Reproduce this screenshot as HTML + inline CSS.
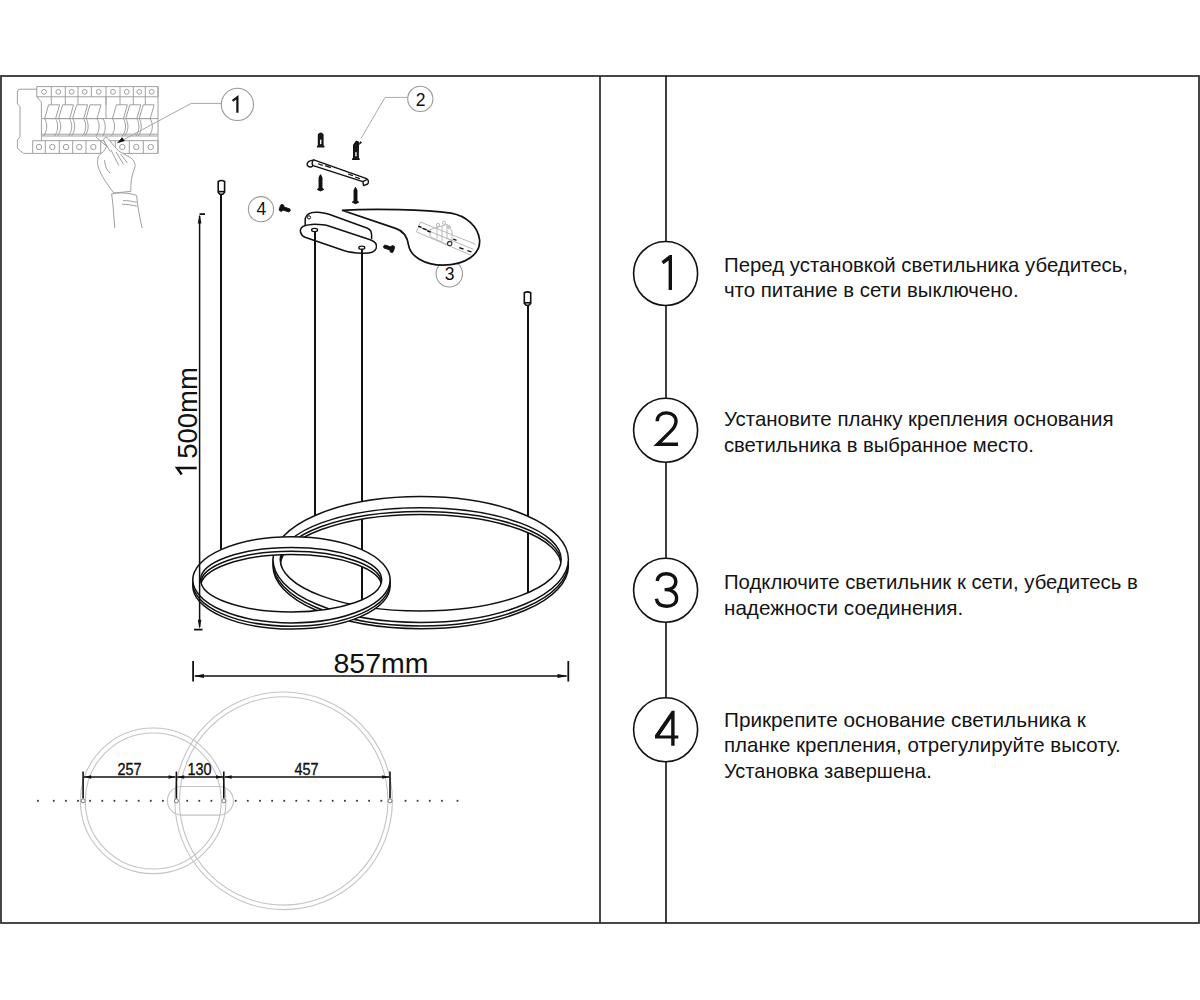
<!DOCTYPE html>
<html><head><meta charset="utf-8">
<style>
html,body{margin:0;padding:0;background:#fff;}
body{width:1200px;height:1000px;overflow:hidden;}
svg{display:block;}
text{font-family:"Liberation Sans",sans-serif;}
</style></head><body>
<svg width="1200" height="1000" viewBox="0 0 1200 1000">
<defs>
</defs>
<rect x="0" y="0" width="1200" height="1000" fill="#fff"/>
<!-- frame -->
<g fill="none" stroke="#333" stroke-width="1.8">
  <rect x="1" y="76" width="1198" height="847"/>
  <line x1="600" y1="76" x2="600" y2="923"/>
</g>
<line x1="666" y1="76" x2="666" y2="923" stroke="#111" stroke-width="1.6"/>
<!-- RIGHT STEPS -->
<g id="steps">
  <g fill="#fff" stroke="#111" stroke-width="1.6">
    <circle cx="665.6" cy="273.5" r="32"/>
    <circle cx="665.6" cy="430.2" r="32"/>
    <circle cx="665.6" cy="590.2" r="32"/>
    <circle cx="665.6" cy="729.7" r="32"/>
  </g>
  <g fill="none" stroke="#111" stroke-width="3.4" stroke-linejoin="miter" stroke-linecap="butt">
    <path d="M672,255 V289.9 H668.6 V260.4 L663.4,264.2 L661.6,261.2 L669.6,255 Z" fill="#111" stroke="none"/>
    <path d="M657.2,421.2 C657.2,415.6 661.2,412.9 666.6,412.9 C672.2,412.9 676,416.4 676,421.2 C676,425.2 674,428 670.6,431.4 L657.6,444.2 H678"/>
    <path d="M657.2,581 C657.8,576 661.6,573.8 666.6,573.8 C672.2,573.8 675.8,577.2 675.8,581.6 C675.8,586.4 672,589.6 666,589.6 H664.6 M666,589.6 C672.6,589.6 676.6,593.4 676.6,598.4 C676.6,603.2 672.6,606.2 666.6,606.2 C660.8,606.2 657,603.4 656.4,598.8"/>
    <path fill-rule="evenodd" fill="#111" stroke="none" d="M674.6,710.8 V735.4 H678.3 V738.4 H674.6 V745.8 H671.2 V738.4 H655 V735.3 L671.8,710.8 Z M659.6,735.4 H671.2 V718.4 Z"/>
  </g>
  <g font-size="21" fill="#141414">
    <text x="724" y="272" textLength="404.0" lengthAdjust="spacingAndGlyphs">Перед установкой светильника убедитесь,</text>
    <text x="724" y="297.2" textLength="294.6" lengthAdjust="spacingAndGlyphs">что питание в сети выключено.</text>
    <text x="724" y="426.2" textLength="389.5" lengthAdjust="spacingAndGlyphs">Установите планку крепления основания</text>
    <text x="724" y="451.5" textLength="309.9" lengthAdjust="spacingAndGlyphs">светильника в выбранное место.</text>
    <text x="724" y="589.2" textLength="413.8" lengthAdjust="spacingAndGlyphs">Подключите светильник к сети, убедитесь в</text>
    <text x="724" y="614.5" textLength="239.2" lengthAdjust="spacingAndGlyphs">надежности соединения.</text>
    <text x="724" y="727" textLength="361.9" lengthAdjust="spacingAndGlyphs">Прикрепите основание светильника к</text>
    <text x="724" y="752.2" textLength="396.8" lengthAdjust="spacingAndGlyphs">планке крепления, отрегулируйте высоту.</text>
    <text x="724" y="777.8" textLength="207.7" lengthAdjust="spacingAndGlyphs">Установка завершена.</text>
  </g>
</g>
<g fill="none" stroke="#a0a0a0" stroke-width="1" stroke-linejoin="round">
<path d="M37,89.2 H20 Q17.4,89.2 17.4,92 V104 L20,106.5 V137 L17.4,140 V148.5 L23.5,153.4 H32.7"/>
<rect x="36.8" y="86.6" width="121.2" height="10.2"/>
<line x1="51.3" y1="86.6" x2="51.3" y2="96.8"/>
<line x1="65.3" y1="86.6" x2="65.3" y2="96.8"/>
<line x1="78" y1="86.6" x2="78" y2="96.8"/>
<line x1="91.3" y1="86.6" x2="91.3" y2="96.8"/>
<line x1="106" y1="86.6" x2="106" y2="96.8"/>
<line x1="120" y1="86.6" x2="120" y2="96.8"/>
<line x1="133.3" y1="86.6" x2="133.3" y2="96.8"/>
<line x1="145.3" y1="86.6" x2="145.3" y2="96.8"/>
<circle cx="44.0" cy="91.8" r="2.4"/>
<circle cx="58.3" cy="91.8" r="2.4"/>
<circle cx="71.7" cy="91.8" r="2.4"/>
<circle cx="84.7" cy="91.8" r="2.4"/>
<circle cx="98.7" cy="91.8" r="2.4"/>
<circle cx="113.0" cy="91.8" r="2.4"/>
<circle cx="126.7" cy="91.8" r="2.4"/>
<circle cx="139.3" cy="91.8" r="2.4"/>
<circle cx="151.7" cy="91.8" r="2.4"/>
<line x1="158" y1="86.6" x2="158" y2="153.4"/>
<path d="M36.8,96.8 L41.4,102.2 V136"/>
<line x1="51.3" y1="96.8" x2="51.3" y2="104.8"/>
<line x1="65.3" y1="96.8" x2="65.3" y2="104.8"/>
<line x1="78" y1="96.8" x2="78" y2="104.8"/>
<line x1="106" y1="96.8" x2="106" y2="104.8"/>
<line x1="120" y1="96.8" x2="120" y2="104.8"/>
<line x1="133.3" y1="96.8" x2="133.3" y2="104.8"/>
<line x1="145.3" y1="96.8" x2="145.3" y2="104.8"/>
<line x1="106" y1="96.8" x2="106" y2="118.6"/>
<line x1="41.4" y1="118.6" x2="158" y2="118.6"/>
<line x1="41.4" y1="136" x2="158" y2="136"/>
<line x1="41.4" y1="134.2" x2="158" y2="134.2"/>
<path d="M48.6,104.8 H59.6 L55.6,118.6 H44.6 Z"/>
<path d="M44.6,118.6 C47.6,124 47.6,130 43.6,136 M55.6,118.6 C58.6,124 58.6,130 54.6,136"/>
<path d="M62.6,104.8 H73.6 L69.6,118.6 H58.6 Z"/>
<path d="M58.6,118.6 C61.6,124 61.6,130 57.6,136 M69.6,118.6 C72.6,124 72.6,130 68.6,136"/>
<path d="M76.6,104.8 H87.6 L83.6,118.6 H72.6 Z"/>
<path d="M72.6,118.6 C75.6,124 75.6,130 71.6,136 M83.6,118.6 C86.6,124 86.6,130 82.6,136"/>
<path d="M90,104.8 H101 L97,118.6 H86 Z"/>
<path d="M86,118.6 C89,124 89,130 85,136 M97,118.6 C100,124 100,130 96,136"/>
<path d="M116.4,104.8 H127.4 L123.4,118.6 H112.4 Z"/>
<path d="M112.4,118.6 C115.4,124 115.4,130 111.4,136 M123.4,118.6 C126.4,124 126.4,130 122.4,136"/>
<path d="M129.8,104.8 H140.8 L136.8,118.6 H125.80000000000001 Z"/>
<path d="M125.80000000000001,118.6 C128.8,124 128.8,130 124.80000000000001,136 M136.8,118.6 C139.8,124 139.8,130 135.8,136"/>
<path d="M143.2,104.8 H154.2 L150.2,118.6 H139.2 Z"/>
<path d="M139.2,118.6 C142.2,124 142.2,130 138.2,136 M150.2,118.6 C153.2,124 153.2,130 149.2,136"/>
<path d="M103,118.6 C106,124 106,130 103,136 M96.6,118.6 L103,118.6"/>
<rect x="32.7" y="140.7" width="125.3" height="12.7"/>
<line x1="45.3" y1="140.7" x2="45.3" y2="153.4"/>
<line x1="59.3" y1="140.7" x2="59.3" y2="153.4"/>
<line x1="72.7" y1="140.7" x2="72.7" y2="153.4"/>
<line x1="86" y1="140.7" x2="86" y2="153.4"/>
<line x1="100.7" y1="140.7" x2="100.7" y2="153.4"/>
<line x1="115.3" y1="140.7" x2="115.3" y2="153.4"/>
<line x1="129.3" y1="140.7" x2="129.3" y2="153.4"/>
<line x1="143.3" y1="140.7" x2="143.3" y2="153.4"/>
<circle cx="39.0" cy="147" r="2.7"/>
<circle cx="52.3" cy="147" r="2.7"/>
<circle cx="66.0" cy="147" r="2.7"/>
<circle cx="79.3" cy="147" r="2.7"/>
<circle cx="93.3" cy="147" r="2.7"/>
<circle cx="122.3" cy="147" r="2.7"/>
<circle cx="136.3" cy="147" r="2.7"/>
<circle cx="150.7" cy="147" r="2.7"/>
<line x1="41.4" y1="136" x2="41.4" y2="140.7"/>
</g>
<g fill="#fff" stroke="#a0a0a0" stroke-width="1" stroke-linejoin="round">
<path d="M100.4,154.2 C97.4,156.4 96.6,162 98.6,168 C101,175 107,184 113.8,193 L130.8,191.4 C130.4,183 131.6,176 134.6,168 C136.4,163.4 133,158.4 127.6,156 L118.6,151 L114.4,146.6 L108.4,138.8 C106.4,136.6 103.4,137.4 103.8,140.6 L106.6,146.4 C104.6,150.6 102.4,152.8 100.4,154.2 Z"/>
</g>
<g fill="none" stroke="#a0a0a0" stroke-width="1" stroke-linejoin="round">
<path d="M103.8,140.6 L110.2,151.6 M96,137 L106.6,146.4 M111,150 L118.8,165.6 M116,152 L123.6,164.4 M120.6,154 L127.4,163 M104.6,160 C105,166 106.4,170 110.2,173.2"/>
<path d="M111.6,194 C113.4,205 113.6,216 114.8,228 M111.6,194 C120,192 130,193 136.6,195.4 C137.4,206 139.6,217 142.2,228 M123,200.6 C128,200.6 133,201.2 136.6,202.4 M122,204.2 C127,204.4 133,205.2 136.8,206.2"/>
</g>
<g stroke="#111" stroke-width="2" fill="none">
<line x1="221" y1="193" x2="221" y2="550"/>
<line x1="315" y1="236" x2="315" y2="516"/>
<line x1="362" y1="250" x2="362" y2="600"/>
<line x1="528" y1="304" x2="528" y2="593"/>
</g>
<defs>
<clipPath id="BInClip"><ellipse cx="420.7" cy="559.4" rx="140.5" ry="51.6"/></clipPath>
<clipPath id="BInShClip"><ellipse cx="420.7" cy="566.0" rx="140.5" ry="51.6"/></clipPath>
<mask id="BOutMask" maskUnits="userSpaceOnUse" x="0" y="0" width="1200" height="1000"><rect x="0" y="0" width="1200" height="1000" fill="#fff"/><ellipse cx="420.7" cy="559.5" rx="147.7" ry="63.0" fill="#000"/></mask>
<mask id="BBandMask" maskUnits="userSpaceOnUse" x="0" y="0" width="1200" height="1000"><ellipse cx="420.7" cy="559.5" rx="147.7" ry="63.0" fill="#fff"/><ellipse cx="420.7" cy="565.7" rx="147.7" ry="63.0" fill="#fff"/><g clip-path="url(#BInShClip)"><ellipse cx="420.7" cy="559.4" rx="140.5" ry="51.6" fill="#000"/></g></mask>
</defs>
<rect x="0" y="0" width="1200" height="1000" fill="#fff" mask="url(#BBandMask)"/>
<g fill="none" stroke="#111" stroke-width="1.5">
<ellipse cx="420.7" cy="559.5" rx="147.7" ry="63.0"/>
<g mask="url(#BOutMask)">
<ellipse cx="420.7" cy="563.0" rx="147.7" ry="63.0"/>
<ellipse cx="420.7" cy="565.7" rx="147.7" ry="63.0"/>
</g>
<ellipse cx="420.7" cy="559.4" rx="140.5" ry="51.6"/>
<g clip-path="url(#BInClip)">
<ellipse cx="420.7" cy="563.0" rx="140.5" ry="51.6"/>
<ellipse cx="420.7" cy="566.0" rx="140.5" ry="51.6"/>
</g></g>
<defs>
<clipPath id="SInClip"><ellipse cx="291.15" cy="579.75" rx="90.55" ry="32.25"/></clipPath>
<clipPath id="SInShClip"><ellipse cx="291.15" cy="586.75" rx="90.55" ry="32.25"/></clipPath>
<mask id="SOutMask" maskUnits="userSpaceOnUse" x="0" y="0" width="1200" height="1000"><rect x="0" y="0" width="1200" height="1000" fill="#fff"/><ellipse cx="291.45" cy="579.8" rx="98.65" ry="43.1" fill="#000"/></mask>
<mask id="SBandMask" maskUnits="userSpaceOnUse" x="0" y="0" width="1200" height="1000"><ellipse cx="291.45" cy="579.8" rx="98.65" ry="43.1" fill="#fff"/><ellipse cx="291.45" cy="585.9" rx="98.65" ry="43.1" fill="#fff"/><g clip-path="url(#SInShClip)"><ellipse cx="291.15" cy="579.75" rx="90.55" ry="32.25" fill="#000"/></g></mask>
</defs>
<rect x="0" y="0" width="1200" height="1000" fill="#fff" mask="url(#SBandMask)"/>
<g fill="none" stroke="#111" stroke-width="1.5">
<ellipse cx="291.45" cy="579.8" rx="98.65" ry="43.1"/>
<g mask="url(#SOutMask)">
<ellipse cx="291.45" cy="583.0999999999999" rx="98.65" ry="43.1"/>
<ellipse cx="291.45" cy="585.9" rx="98.65" ry="43.1"/>
</g>
<ellipse cx="291.15" cy="579.75" rx="90.55" ry="32.25"/>
<g clip-path="url(#SInClip)">
<ellipse cx="291.15" cy="583.5" rx="90.55" ry="32.25"/>
<ellipse cx="291.15" cy="586.75" rx="90.55" ry="32.25"/>
</g></g>
<g stroke="#111" stroke-width="1.5" fill="none">
  <line x1="199.6" y1="216" x2="199.6" y2="627"/>
  <line x1="199.6" y1="214.1" x2="205" y2="214.1" stroke-width="1.8"/>
  <line x1="194" y1="629.6" x2="202.5" y2="629.6" stroke-width="1.8"/>
  <line x1="195" y1="676" x2="566.5" y2="676"/>
  <line x1="193.1" y1="661" x2="193.1" y2="681.5" stroke-width="1.8"/>
  <line x1="568.3" y1="661" x2="568.3" y2="681.5" stroke-width="1.8"/>
</g>
<g fill="#111">
  <path d="M199.6,214.3 L197.8,223.5 L201.4,223.5 Z"/>
  <path d="M199.6,629 L197.8,619.8 L201.4,619.8 Z"/>
  <path d="M193.5,676 L204,674 L204,678 Z"/>
  <path d="M568,676 L557.5,674 L557.5,678 Z"/>
</g>
<g font-size="28.5" fill="#111">
  <text x="381" y="673" text-anchor="middle">857mm</text>
  <g transform="translate(196.7,421.5) rotate(-90)"><text x="-37.3" y="0" font-size="27.5">500mm</text><path d="M-53,-15 L-46.4,-19.6 V0" fill="none" stroke="#111" stroke-width="2.5"/></g>
</g>
<!-- wire caps -->
<g fill="#fff" stroke="#111" stroke-width="1.6">
  <path d="M218.2,181.5 Q221.4,179.6 224.6,181.5 L224.6,192.2 L222.8,194.2 L219.8,194.2 L218.2,192.2 Z"/>
  <line x1="218.4" y1="191.6" x2="224.4" y2="191.6"/>
  <path d="M524.3,292.8 Q527.5,290.9 530.7,292.8 L530.7,303.4 L528.9,305.3 L526.1,305.3 L524.3,303.4 Z"/>
  <line x1="524.5" y1="302.8" x2="530.5" y2="302.8"/>
</g>
<!-- canopy -->
<g fill="#fff" stroke="#111" stroke-width="1.5" stroke-linejoin="round">
  <path d="M305.2,226.5 L305.2,218.5 C306.5,213.2 312,211.8 318,212.2 C322,212.4 326,213.2 329,214.3 L367.5,228.2 C370.6,229.5 371.6,232 371.6,235 L371.6,239.2"/>
  <path d="M300.5,232 C299.6,227.2 304.5,224.6 312,224.4 C319,224.2 325,224.8 329.5,226.2 L370.2,239.8 C375.8,241.8 377,245.4 376.2,248.2 C374.8,252.4 368,253.6 362,253.3 C355,253 349,252.2 344.5,250.8 L305,237.2 C302.6,236.2 301,234.4 300.5,232 Z"/>
</g>
<g fill="#fff" stroke="#111" stroke-width="1.3">
  <ellipse cx="314.6" cy="230" rx="3" ry="1.6"/>
  <ellipse cx="361.8" cy="247.8" rx="3" ry="1.6"/>
</g>
<circle cx="309" cy="217.4" r="1.6" fill="none" stroke="#111" stroke-width="1"/>
<g stroke="#111" stroke-width="2">
  <line x1="315" y1="231" x2="315" y2="240"/>
  <line x1="362" y1="248.8" x2="362" y2="256"/>
</g>
<!-- anchors (dowels) -->
<g fill="#1a1a1a" stroke="#111" stroke-width="1.2" stroke-linejoin="round">
  <path d="M318.4,134.6 Q320.7,131.8 323,134.6 L323,145.2 L324,146.8 L317.4,146.8 L318.4,145.2 Z"/>
  <path d="M353.6,145 L356.4,141.2 L358.4,142 L358.2,157.6 L359.2,159.4 L352.6,159.4 L353.6,157.6 Z"/>
</g>
<g fill="#fff">
  <rect x="320" y="139.6" width="1.4" height="4.6" rx="0.7"/>
  <rect x="355.3" y="152" width="1.4" height="4.4" rx="0.7"/>
</g>
<!-- screws below bar -->
<g fill="#111" stroke="#111" stroke-width="0.9" stroke-linejoin="round">
  <path d="M320.5,174.6 L322,177.6 L322,188 L323.8,189.4 L320.5,191 L317.2,189.4 L319,188 L319,177.6 Z"/>
  <path d="M355.5,187.3 L357,190.3 L357,200.8 L358.8,202.2 L355.5,203.8 L352.2,202.2 L354,200.8 L354,190.3 Z"/>
</g>
<!-- mounting bar -->
<g fill="#fff" stroke="#111" stroke-width="1.4" stroke-linejoin="round">
  <path d="M309.4,161.2 L313.8,159.8 L366.6,178.6 C368.6,179.6 369,182.8 367.6,184 L363.6,185.6 L362.8,181.6 L313.2,165.6 L311.6,166.8 C308.6,167.4 306.6,165.6 307.2,163.6 C307.6,162.6 308.4,161.8 309.4,161.2 Z"/>
  <path d="M313.8,159.8 C311.8,161 311.6,164.6 313.2,165.6"/>
  <path d="M362.8,181.6 L366.8,179.6"/>
</g>
<g fill="#111">
  <rect x="318" y="163.8" width="5" height="1.2" transform="rotate(19 320 164)"/>
  <rect x="325" y="166" width="6" height="1.2" transform="rotate(19 328 166.6)"/>
  <rect x="348" y="174" width="5" height="1.2" transform="rotate(19 350 174.6)"/>
  <rect x="355" y="177" width="5" height="1.2" transform="rotate(19 357 177.6)"/>
</g>
<!-- small screws -->
<g fill="#111" stroke="#111" stroke-width="0.8" stroke-linejoin="round">
  <g transform="rotate(18 285 209)">
    <rect x="279.6" y="205.6" width="3.6" height="6.8" rx="1.4"/>
    <path d="M283,207.4 H289.6 L290.6,209 L289.6,210.6 H283 Z"/>
  </g>
  <g transform="rotate(18 389 248)">
    <rect x="390.6" y="244.6" width="3.6" height="6.8" rx="1.4"/>
    <path d="M390.8,246.4 H384.2 L383.2,248 L384.2,249.6 H390.8 Z"/>
  </g>
</g>
<!-- label circles (gray) -->
<g fill="#fff" stroke="#9a9a9a" stroke-width="1.1">
  <circle cx="237.4" cy="104.4" r="16.1"/>
  <circle cx="420.3" cy="98.9" r="12.6"/>
  <circle cx="261" cy="209.2" r="12.6"/>
  <circle cx="449.3" cy="273.8" r="13.2"/>
</g>
<g fill="none" stroke="#111" stroke-width="2.2">
  <path d="M232.6,100.8 L237.4,97.2 V112.8"/>
</g>
<g fill="#111" font-size="17.5" text-anchor="middle">
  <text x="420.6" y="105.6">2</text>
  <text x="261.4" y="215.2">4</text>
  <text x="449.6" y="280">3</text>
</g>
<!-- leaders -->
<g fill="none" stroke="#a8a8a8" stroke-width="1">
  <path d="M221,103.4 H191.2 L124,139.5"/>
  <path d="M407.5,97.4 H385 L361,138.5"/>
</g>
<path d="M116.8,143.2 L122.2,137.2 L124.8,141 Z" fill="#111"/>
<path d="M360.2,141.2 L358.2,145.4 L362.2,142.4 Z" fill="#111"/>
<!-- zoom bubble -->
<path d="M342,210.3 C375,208.4 425,209.6 451,213.2 C466,216 478,226 479.6,240 C480.6,254 466,265 443,265.2 C424,265 410.4,256 408.6,245.4 C407.4,237.4 404.4,231 395.6,228.4 L342,210.3 Z" fill="#fff" stroke="#111" stroke-width="1.7" stroke-linejoin="miter"/>
<g fill="none" stroke="#b0b0b0" stroke-width="0.9">
  <path d="M420.5,222 L475.3,244.2 M418.6,226.8 L473.6,249.4 M416.4,231.9 L471.3,255.3 M420.5,222 L416.4,231.9"/>
  <path d="M430,236.6 L430,229.6 L447,224.4 L452,231 L452,240.6 L446,244 L430,236.6 Z M447,224.4 L447,238 L452,240.6 M437,227.4 L437,238.6 M442,225.6 L442,241"/>
  <circle cx="438" cy="225" r="1.6"/><circle cx="444" cy="222.8" r="1.6"/><circle cx="449" cy="227" r="1.4"/>
</g>
<g fill="#111">
  <path d="M418.6,225.6 L421.8,226.8 L421.2,228 L418,226.8 Z"/>
  <path d="M423,227.8 L427,229.2 L426.4,230.4 L422.4,229 Z"/>
  <path d="M427.6,230 L431,231.4 L430.2,232.8 L427,231.4 Z"/>
  <path d="M453.4,238.4 L456.8,239.8 L456.2,241 L452.8,239.6 Z"/>
  <path d="M459.6,247 L463.8,248.6 L463.2,249.8 L459,248.2 Z"/>
  <path d="M467.8,250 L471.8,251.6 L471.2,252.6 L467.2,251.2 Z"/>
</g>
<circle cx="449.7" cy="243.6" r="2.2" fill="none" stroke="#333" stroke-width="1.1"/>
<g fill="none" stroke="#c4c4c4" stroke-width="1.1">
<circle cx="153.2" cy="800.8" r="72.8"/>
<circle cx="153.3" cy="801" r="68"/>
<circle cx="283.6" cy="800.8" r="108.8"/>
<circle cx="283.7" cy="800.9" r="104.2"/>
<rect x="167.4" y="786.5" width="66" height="28.6" rx="14.3"/>
</g>
<g fill="#3a3a3a">
<rect x="37.0" y="799.9" width="1.8" height="1.8"/>
<rect x="52.9" y="799.9" width="1.8" height="1.8"/>
<rect x="65.0" y="799.9" width="1.8" height="1.8"/>
<rect x="77.1" y="799.9" width="1.8" height="1.8"/>
<rect x="89.2" y="799.9" width="1.8" height="1.8"/>
<rect x="101.4" y="799.9" width="1.8" height="1.8"/>
<rect x="113.5" y="799.9" width="1.8" height="1.8"/>
<rect x="125.6" y="799.9" width="1.8" height="1.8"/>
<rect x="137.8" y="799.9" width="1.8" height="1.8"/>
<rect x="149.9" y="799.9" width="1.8" height="1.8"/>
<rect x="162.0" y="799.9" width="1.8" height="1.8"/>
<rect x="186.3" y="799.9" width="1.8" height="1.8"/>
<rect x="198.4" y="799.9" width="1.8" height="1.8"/>
<rect x="210.5" y="799.9" width="1.8" height="1.8"/>
<rect x="234.8" y="799.9" width="1.8" height="1.8"/>
<rect x="246.9" y="799.9" width="1.8" height="1.8"/>
<rect x="259.1" y="799.9" width="1.8" height="1.8"/>
<rect x="271.2" y="799.9" width="1.8" height="1.8"/>
<rect x="283.3" y="799.9" width="1.8" height="1.8"/>
<rect x="295.4" y="799.9" width="1.8" height="1.8"/>
<rect x="307.6" y="799.9" width="1.8" height="1.8"/>
<rect x="319.7" y="799.9" width="1.8" height="1.8"/>
<rect x="331.8" y="799.9" width="1.8" height="1.8"/>
<rect x="344.0" y="799.9" width="1.8" height="1.8"/>
<rect x="356.1" y="799.9" width="1.8" height="1.8"/>
<rect x="368.2" y="799.9" width="1.8" height="1.8"/>
<rect x="380.4" y="799.9" width="1.8" height="1.8"/>
<rect x="404.6" y="799.9" width="1.8" height="1.8"/>
<rect x="416.7" y="799.9" width="1.8" height="1.8"/>
<rect x="428.9" y="799.9" width="1.8" height="1.8"/>
<rect x="441.0" y="799.9" width="1.8" height="1.8"/>
<rect x="456.6" y="799.9" width="1.8" height="1.8"/>
</g>
<g stroke="#111" stroke-width="1.6" fill="none">
<line x1="83.1" y1="771.5" x2="83.1" y2="798.6"/>
<line x1="176.4" y1="771.5" x2="176.4" y2="798.6"/>
<line x1="223.8" y1="771.5" x2="223.8" y2="798.6"/>
<line x1="390.0" y1="771.5" x2="390.0" y2="798.6"/>
<line x1="84" y1="777" x2="175.5" y2="777"/>
<line x1="177.3" y1="777" x2="223" y2="777"/>
<line x1="224.6" y1="777" x2="389.2" y2="777"/>
</g>
<g fill="#fff" stroke="#777" stroke-width="1">
<circle cx="83.1" cy="800.9" r="2"/>
<circle cx="176.4" cy="800.9" r="2"/>
<circle cx="223.8" cy="800.9" r="2"/>
<circle cx="390.0" cy="800.9" r="2"/>
</g>
<g fill="#111">
<path d="M84.2,777 L91.2,775.2 L91.2,778.8 Z"/>
<path d="M175.6,777 L168.6,775.2 L168.6,778.8 Z"/>
<path d="M177.2,777 L184.2,775.2 L184.2,778.8 Z"/>
<path d="M223,777 L216,775.2 L216,778.8 Z"/>
<path d="M224.6,777 L231.6,775.2 L231.6,778.8 Z"/>
<path d="M389.2,777 L382.2,775.2 L382.2,778.8 Z"/>
</g>
<g fill="#111" font-size="15.6" stroke="#111" stroke-width="0.35" text-anchor="middle">
<text transform="translate(129.5,774.7) scale(0.925,1)">257</text>
<text transform="translate(199.6,774.7) scale(0.925,1)">130</text>
<text transform="translate(306.6,774.7) scale(0.925,1)">457</text>
</g>

</svg>
</body></html>
